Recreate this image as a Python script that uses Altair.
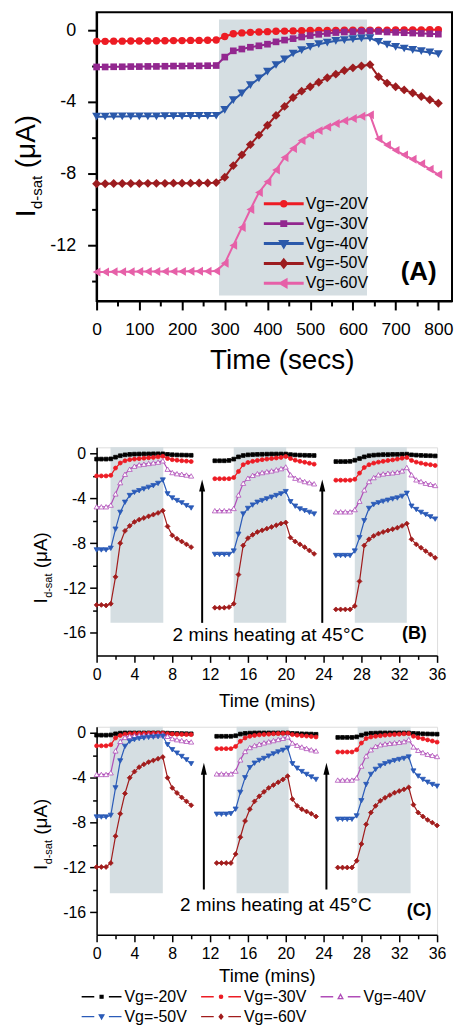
import altair as alt
import pandas as pd

FONT = "Liberation Sans"
SERIES = ["Vg=-20V", "Vg=-30V", "Vg=-40V", "Vg=-50V", "Vg=-60V"]
SHADE_COLOR = "#D5DEE2"

# ---------------- Panel A (seconds) ----------------
A_TIME = [0, 20, 40, 60, 80, 100, 120, 140, 160, 180, 200, 220, 240, 260, 280,
          300, 320, 340, 360, 380, 400, 420, 440, 460, 480, 500, 520, 540, 560,
          580, 600, 620, 640, 660, 680, 700, 720, 740, 760, 780, 800]
A_M20 = [-0.62, -0.62, -0.61, -0.61, -0.6, -0.6, -0.6, -0.59, -0.59, -0.58, -0.58, -0.57, -0.57, -0.56, -0.55,
         -0.35, -0.2, -0.15, -0.12, -0.1, -0.08, -0.06, -0.05, -0.04, -0.03, -0.02, -0.02, -0.01, -0.01, 0.0, 0.0, 0.0, 0.0,
         0.0, 0.0, 0.01, 0.01, 0.02, 0.02, 0.03, 0.03]
A_M30 = [-2.05, -2.05, -2.04, -2.04, -2.03, -2.03, -2.02, -2.02, -2.01, -2.0, -2.0, -1.99, -1.99, -1.98, -1.97,
         -1.5, -1.15, -1.05, -0.95, -0.87, -0.78, -0.65, -0.55, -0.47, -0.38, -0.3, -0.23, -0.18, -0.13, -0.1, -0.08, -0.06, -0.05,
         -0.07, -0.1, -0.12, -0.14, -0.16, -0.18, -0.2, -0.22]
A_M40 = [-4.82, -4.82, -4.81, -4.81, -4.8, -4.8, -4.8, -4.8, -4.79, -4.79, -4.79, -4.78, -4.78, -4.78, -4.77,
         -4.44, -3.9, -3.52, -3.06, -2.69, -2.31, -1.94, -1.63, -1.3, -1.11, -0.93, -0.78, -0.69, -0.59, -0.55, -0.5, -0.46, -0.44,
         -0.65, -0.8, -0.93, -1.02, -1.1, -1.17, -1.24, -1.33]
A_M50 = [-8.56, -8.56, -8.55, -8.55, -8.55, -8.55, -8.54, -8.54, -8.54, -8.53, -8.53, -8.53, -8.52, -8.52, -8.5,
         -8.2, -7.55, -6.95, -6.38, -5.85, -5.3, -4.75, -4.25, -3.75, -3.4, -3.15, -2.9, -2.65, -2.45, -2.25, -2.1, -2.0, -1.92,
         -2.6, -2.95, -3.15, -3.33, -3.5, -3.7, -3.88, -4.07]
A_M60 = [-13.48, -13.48, -13.47, -13.47, -13.47, -13.46, -13.46, -13.46, -13.45, -13.45, -13.45, -13.44, -13.44, -13.44, -13.43,
         -13.0, -12.0, -11.0, -10.0, -9.05, -8.45, -7.8, -7.1, -6.6, -6.15, -5.85, -5.6, -5.4, -5.2, -5.05, -4.92, -4.8, -4.72,
         -6.05, -6.4, -6.7, -6.95, -7.2, -7.45, -7.75, -8.05]
A_COLORS = ["#ED1C24", "#92278F", "#2B59AA", "#9C1C1F", "#E660A8"]
A_SHAPES = ["circle", "square", "triangle-down", "diamond", "triangle-left"]
A_SIZES = [55, 45, 80, 80, 80]
A_SHADE_X = [286.5, 633.0]
A_SHADE_Y = [-14.8, 0.6]
A_XTICKS = [0, 50, 100, 150, 200, 250, 300, 350, 400, 450, 500, 550, 600, 650, 700, 750, 800]
A_YTICKS = [-14, -12, -10, -8, -6, -4, -2, 0]
A_LABEL = {"x": [754], "y": [-13.5], "text": ["(A)"]}
A_LEG_ROW = [0, 1, 2, 3, 4]

# ---------------- Panels B and C (minutes) ----------------
REL_TIME = [0.0, 0.5, 1.0, 1.5, 2.0, 2.5, 3.0, 3.5, 4.0, 4.5, 5.0,
            5.5, 6.0, 6.5, 7.0, 7.5, 8.0, 8.5, 9.0, 9.5, 10.0, 10.5]
B_SEG_START = [0.0, 12.5, 25.3]
C_SEG_START = [0.0, 12.7, 25.5]

B_M20 = [[-0.5, -0.5, -0.5, -0.48, -0.33, -0.2, -0.12, -0.08, -0.06, -0.05, -0.04, -0.04, -0.03, -0.03, -0.03, -0.08, -0.11, -0.13, -0.14, -0.15, -0.16],
         [-0.65, -0.65, -0.65, -0.62, -0.5, -0.3, -0.18, -0.12, -0.1, -0.08, -0.07, -0.06, -0.05, -0.05, -0.05, -0.05, -0.1, -0.13, -0.15, -0.16, -0.17, -0.18],
         [-0.72, -0.72, -0.72, -0.7, -0.6, -0.45, -0.3, -0.2, -0.15, -0.12, -0.1, -0.1, -0.08, -0.08, -0.07, -0.06, -0.12, -0.15, -0.17, -0.19, -0.2, -0.22]]
B_M30 = [[-2.0, -2.0, -2.0, -1.95, -1.3, -0.85, -0.65, -0.55, -0.5, -0.46, -0.42, -0.38, -0.35, -0.3, -0.25, -0.45, -0.55, -0.6, -0.65, -0.68, -0.72],
         [-2.25, -2.25, -2.25, -2.25, -2.15, -1.6, -1.0, -0.8, -0.7, -0.62, -0.55, -0.5, -0.45, -0.4, -0.35, -0.27, -0.45, -0.6, -0.7, -0.78, -0.87, -0.95],
         [-2.38, -2.38, -2.38, -2.38, -2.3, -1.75, -1.25, -1.0, -0.86, -0.77, -0.7, -0.63, -0.57, -0.5, -0.42, -0.36, -0.62, -0.77, -0.86, -0.95, -1.0, -1.07]]
B_M40 = [[-4.75, -4.75, -4.75, -4.6, -3.6, -2.6, -1.85, -1.4, -1.13, -1.0, -0.95, -0.89, -0.83, -0.77, -0.65, -1.4, -1.7, -1.8, -1.85, -1.92, -2.0],
         [-5.1, -5.1, -5.1, -5.1, -4.9, -3.7, -2.65, -2.2, -1.95, -1.8, -1.7, -1.62, -1.55, -1.45, -1.35, -1.2, -1.9, -2.2, -2.35, -2.5, -2.6, -2.7],
         [-5.2, -5.2, -5.2, -5.2, -5.0, -4.25, -3.25, -2.5, -2.15, -1.9, -1.82, -1.76, -1.72, -1.66, -1.55, -1.25, -1.9, -2.35, -2.5, -2.65, -2.75, -2.85]]
B_M50 = [[-8.6, -8.6, -8.6, -8.45, -6.75, -5.25, -4.35, -3.75, -3.47, -3.32, -3.17, -3.02, -2.87, -2.67, -2.37, -3.6, -3.97, -4.2, -4.4, -4.65, -4.86],
         [-9.0, -9.0, -9.0, -9.0, -8.7, -7.2, -5.4, -4.9, -4.6, -4.35, -4.2, -4.05, -3.9, -3.75, -3.6, -3.4, -4.3, -4.7, -4.95, -5.1, -5.25, -5.4],
         [-9.1, -9.1, -9.1, -9.1, -8.7, -7.5, -6.0, -4.9, -4.55, -4.4, -4.27, -4.17, -4.06, -3.97, -3.82, -3.55, -4.7, -5.0, -5.25, -5.45, -5.65, -5.85]]
B_M60 = [[-13.5, -13.5, -13.55, -13.4, -11.0, -8.0, -6.9, -6.45, -6.1, -5.9, -5.75, -5.6, -5.45, -5.3, -5.1, -6.5, -7.3, -7.6, -7.85, -8.1, -8.35],
         [-13.75, -13.75, -13.75, -13.7, -13.4, -10.8, -8.2, -7.55, -7.25, -7.0, -6.85, -6.7, -6.55, -6.4, -6.25, -6.15, -7.5, -7.85, -8.1, -8.35, -8.65, -8.95],
         [-13.9, -13.9, -13.9, -13.9, -13.6, -11.4, -8.2, -7.65, -7.35, -7.15, -7.0, -6.87, -6.75, -6.62, -6.45, -6.25, -7.65, -8.1, -8.4, -8.7, -9.0, -9.3]]

C_M20 = [[-0.2, -0.2, -0.2, -0.18, -0.08, -0.02, 0.0, 0.0, 0.0, 0.0, 0.0, 0.0, 0.0, 0.0, 0.0, -0.02, -0.04, -0.05, -0.06, -0.07, -0.08],
         [-0.3, -0.3, -0.3, -0.3, -0.25, -0.1, -0.04, -0.02, 0.0, 0.0, 0.0, 0.0, 0.0, 0.0, 0.0, 0.0, -0.04, -0.06, -0.08, -0.09, -0.1, -0.12],
         [-0.4, -0.4, -0.4, -0.4, -0.35, -0.2, -0.08, -0.03, -0.02, 0.0, 0.0, 0.0, 0.0, 0.0, 0.0, 0.0, -0.04, -0.06, -0.08, -0.09, -0.1, -0.11]]
C_M30 = [[-1.15, -1.15, -1.15, -1.05, -0.45, -0.22, -0.12, -0.08, -0.06, -0.05, -0.04, -0.03, -0.02, -0.02, -0.02, -0.08, -0.1, -0.12, -0.13, -0.14, -0.15],
         [-1.4, -1.4, -1.4, -1.4, -1.2, -0.75, -0.45, -0.3, -0.22, -0.17, -0.14, -0.11, -0.08, -0.06, -0.04, -0.02, -0.15, -0.2, -0.25, -0.28, -0.32, -0.36],
         [-1.7, -1.7, -1.7, -1.7, -1.5, -0.9, -0.5, -0.36, -0.3, -0.25, -0.2, -0.17, -0.14, -0.11, -0.08, -0.06, -0.3, -0.42, -0.52, -0.62, -0.72, -0.82]]
C_M40 = [[-3.7, -3.7, -3.7, -3.55, -1.6, -0.75, -0.4, -0.3, -0.25, -0.22, -0.2, -0.18, -0.17, -0.16, -0.15, -0.3, -0.5, -0.6, -0.68, -0.74, -0.8],
         [-3.65, -3.65, -3.65, -3.65, -3.4, -2.4, -1.65, -1.3, -1.12, -1.0, -0.88, -0.78, -0.68, -0.58, -0.48, -0.35, -0.9, -1.1, -1.25, -1.38, -1.5, -1.6],
         [-4.2, -4.2, -4.2, -4.2, -4.0, -2.95, -2.05, -1.5, -1.2, -1.05, -0.98, -0.93, -0.88, -0.83, -0.77, -0.6, -1.25, -1.55, -1.75, -1.9, -2.0, -2.1]]
C_M50 = [[-7.5, -7.5, -7.5, -7.35, -4.9, -2.5, -1.2, -0.75, -0.6, -0.5, -0.45, -0.4, -0.37, -0.34, -0.3, -1.05, -1.5, -1.8, -2.1, -2.4, -2.75],
         [-7.25, -7.25, -7.25, -7.2, -6.8, -5.3, -4.0, -3.1, -2.7, -2.45, -2.28, -2.07, -1.87, -1.7, -1.55, -1.35, -2.75, -3.15, -3.45, -3.7, -3.93, -4.15],
         [-7.7, -7.7, -7.7, -7.7, -7.4, -6.05, -4.6, -3.7, -3.25, -2.95, -2.75, -2.6, -2.47, -2.37, -2.28, -2.15, -3.4, -3.85, -4.15, -4.4, -4.6, -4.75]]
C_M60 = [[-11.95, -11.95, -11.95, -11.6, -9.2, -7.2, -5.4, -4.0, -3.45, -3.05, -2.8, -2.6, -2.45, -2.3, -2.15, -4.0, -4.9, -5.35, -5.75, -6.1, -6.45],
         [-11.6, -11.6, -11.6, -11.6, -10.8, -9.3, -7.85, -6.8, -6.1, -5.65, -5.25, -4.9, -4.65, -4.4, -4.15, -3.85, -5.9, -6.5, -6.8, -7.0, -7.2, -7.45],
         [-12.0, -12.0, -12.0, -12.0, -11.4, -9.9, -8.15, -7.1, -6.5, -6.05, -5.78, -5.55, -5.33, -5.18, -5.03, -4.85, -6.4, -7.1, -7.45, -7.75, -8.0, -8.25]]

BC_COLORS = ["#000000", "#ED1C24", "#B04DB8", "#2B5BB8", "#A11C1C"]
BC_FILLS = ["#000000", "#ED1C24", "#FFFFFF", "#2B5BB8", "#A11C1C"]
BC_SHAPES = ["square", "circle", "triangle-up", "triangle-down", "diamond"]
BC_SIZES = [14, 16, 26, 26, 24]
BC_XTICKS = [0, 2, 4, 6, 8, 10, 12, 14, 16, 18, 20, 22, 24, 26, 28, 30, 32, 34, 36]
BC_YTICKS = [-16, -14, -12, -10, -8, -6, -4, -2, 0]
BC_LEG_COL = [0, 1, 2, 0, 1]
BC_LEG_ROW = [0, 0, 0, 1, 1]

B_SHADE_X0 = [1.47, 14.5, 27.3]
B_SHADE_X1 = [7.05, 20.05, 32.8]
B_SHADE_Y = [-15.1, 0.55]
C_SHADE_X0 = [1.4, 14.8, 27.6]
C_SHADE_X1 = [7.0, 20.3, 33.2]
C_SHADE_Y = [-14.3, 0.55]

B_ARROW_X = [11.16, 23.86]
B_ARROW_Y = [-15.1, -2.85]
C_ARROW_X = [11.34, 24.3]
C_ARROW_Y = [-13.96, -3.2]

NOTE_TEXT = "2 mins heating at 45°C"
B_NOTE = {"x": [18.16], "y": [-16.2]}
C_NOTE = {"x": [18.95], "y": [-15.33]}
B_TAG = {"x": [33.6], "y": [-16.1], "text": ["(B)"]}
C_TAG = {"x": [34.1], "y": [-15.9], "text": ["(C)"]}


# ---------------- helpers ----------------
def axis(values, test, major, minor, fs, title, title_fs, lpad, tpad, dw, title_x=None):
    kw = dict(values=values,
              labelExpr=f"({test}) ? (datum.value + '') : ''",
              tickSize={"condition": {"test": test, "value": major}, "value": minor},
              titleFont=FONT, titleFontSize=title_fs, titleFontWeight="normal", titleColor="black",
              labelFont=FONT, labelFontSize=fs, labelColor="black", labelPadding=lpad,
              domainColor="black", domainWidth=dw, tickColor="black", tickWidth=dw,
              grid=False, labelOverlap=False, labelFlush=False)
    if title:
        kw["title"] = title
        kw["titlePadding"] = tpad
        if title_x is not None:
            kw["titleX"] = title_x
    else:
        kw["title"] = None
    return alt.Axis(**kw)


def ytitle(x_main, x_sub, y0, fmain, fsub):
    w_i = 0.278 * fmain
    w_sub = 2.223 * fsub
    parts = [("I", x_main, y0, fmain),
             ("d-sat", x_sub, y0 - w_i - 0.5, fsub),
             ("(μA)", x_main, y0 - w_i - 0.5 - w_sub - 0.278 * fmain, fmain)]
    out = []
    for txt, xx, yy, fs in parts:
        out.append(alt.Chart(pd.DataFrame({"t": [txt]})).mark_text(
            angle=270, align="left", baseline="alphabetic", font=FONT, fontSize=fs, color="black"
        ).encode(x=alt.value(xx), y=alt.value(yy), text="t:N"))
    return out


def circle(r):
    return f"M{-r},0A{r},{r},0,1,0,{r},0A{r},{r},0,1,0,{-r},0Z"


def sq(a):
    return f"M{-a},{-a}L{a},{-a}L{a},{a}L{-a},{a}Z"


def tri_down(a, b, c):
    return f"M{-a},{-b}L{a},{-b}L0,{c}Z"


def tri_up(a, b, c):
    return f"M{-a},{b}L{a},{b}L0,{-c}Z"


def diamond(a, b):
    return f"M0,{-a}L{b},0L0,{a}L{-b},0Z"


def tri_left(a, b, c):
    return f"M{-c},0L{b},{-a}L{b},{a}Z"


def legend_group(leg_df, xenc, yenc, colors, fills, paths, sym_size, sym_sw, fs, dx):
    sym = alt.Chart(leg_df).mark_point(filled=True, opacity=1, size=sym_size, strokeWidth=sym_sw).encode(
        x=xenc, y=yenc,
        shape=alt.Shape("series:N", scale=alt.Scale(domain=SERIES, range=paths), legend=None),
        stroke=alt.Stroke("series:N", scale=alt.Scale(domain=SERIES, range=colors), legend=None),
        fill=alt.Fill("series:N", scale=alt.Scale(domain=SERIES, range=fills), legend=None),
    )
    lab = alt.Chart(leg_df).mark_text(align="left", baseline="middle", dx=dx, font=FONT,
                                      fontSize=fs, color="black").encode(x=xenc, y=yenc, text="series:N")
    return alt.layer(sym, lab)


# ---------------- Panel A ----------------
rowsA = []
for name, vals in zip(SERIES, [A_M20, A_M30, A_M40, A_M50, A_M60]):
    for t, v in zip(A_TIME, vals):
        rowsA.append({"time": t, "value": v, "series": name})
dfA = pd.DataFrame(rowsA)

axAx = axis(A_XTICKS, "datum.value % 100 === 0", 9, 5, 17.5, "Time (secs)", 28, 11, 8, 2, title_x=186)
axAy = axis(A_YTICKS, "datum.value % 4 === 0", 9, 5, 18, None, 12, 12, 4, 2)
scAx = alt.Scale(domain=[0, 832], nice=False, zero=False)
scAy = alt.Scale(domain=[-15.1, 1.0], nice=False, zero=False)


def xA(f):
    return alt.X(f, scale=scAx, axis=axAx)


def yA(f):
    return alt.Y(f, scale=scAy, axis=axAy)


shadeA = alt.Chart(pd.DataFrame({"x0": [A_SHADE_X[0]], "x1": [A_SHADE_X[1]],
                                 "y0": [A_SHADE_Y[0]], "y1": [A_SHADE_Y[1]]})).mark_rect(
    color=SHADE_COLOR).encode(x=xA("x0:Q"), x2="x1:Q", y=yA("y0:Q"), y2="y1:Q")

lineA = alt.Chart(dfA).mark_line(strokeWidth=2).encode(
    x=xA("time:Q"), y=yA("value:Q"),
    color=alt.Color("series:N", scale=alt.Scale(domain=SERIES, range=A_COLORS), legend=None))

pointsA = []
for name, sh, col, sz in zip(SERIES, A_SHAPES, A_COLORS, A_SIZES):
    pointsA.append(alt.Chart(dfA).transform_filter(alt.datum.series == name).mark_point(
        shape=sh, filled=True, color=col, size=sz, opacity=1, strokeWidth=0.5
    ).encode(x=xA("time:Q"), y=yA("value:Q")))

tagA = alt.Chart(pd.DataFrame(A_LABEL)).mark_text(
    font=FONT, fontSize=26, fontWeight="bold", color="black", align="center", baseline="middle"
).encode(x=xA("x:Q"), y=yA("y:Q"), text="text:N")

mainA = alt.layer(shadeA, lineA, *pointsA, tagA, *ytitle(-62, -55, 206, 28, 15))

A_LEG_PATHS = [
    "M-3,0L3,0" + circle(0.33),
    "M-3,0L3,0" + sq(0.3),
    "M-3,0L3,0" + tri_down(0.45, 0.3, 0.45),
    "M-3,0L3,0" + diamond(0.5, 0.4),
    "M-3,0L3,0" + tri_left(0.45, 0.35, 0.45),
]
legA = legend_group(
    pd.DataFrame({"series": SERIES, "row": A_LEG_ROW}),
    alt.value(188),
    alt.Y("row:Q", scale=alt.Scale(domain=[0, 4], range=[192.3, 272.3]), axis=None),
    A_COLORS, A_COLORS, A_LEG_PATHS, 178, 3, 16, 22)

chartA = alt.layer(mainA, legA).resolve_scale(y="independent").properties(
    width=357, height=290, view=alt.ViewBackground(stroke="black", strokeWidth=2))


# ---------------- Panels B / C ----------------
BC_LEG_PATHS = [
    "M-3,0L-1.1,0M1.1,0L3,0" + sq(0.22),
    "M-3,0L-1.1,0M1.1,0L3,0" + circle(0.25),
    "M-3,0L-1.1,0M1.1,0L3,0" + tri_up(0.35, 0.28, 0.35),
    "M-3,0L-1.1,0M1.1,0L3,0" + tri_down(0.35, 0.28, 0.35),
    "M-3,0L-1.1,0M1.1,0L3,0" + diamond(0.35, 0.28),
]


def make_bc(arrays, starts, shade_x0, shade_x1, shade_y, arrow_x, arrow_y, note, tag, ytitle_y,
            with_legend, title_pad):
    rows = []
    for name, segs in zip(SERIES, arrays):
        for k, vals in enumerate(segs):
            for i, v in enumerate(vals):
                rows.append({"time": round(starts[k] + REL_TIME[i], 3), "value": v, "series": name, "seg": k})
    df = pd.DataFrame(rows)

    axx = axis(BC_XTICKS, "datum.value % 4 === 0", 7, 4, 16, "Time (mins)", 18.5, 4, title_pad, 1.5)
    axy = axis(BC_YTICKS, "datum.value % 4 === 0", 7, 4, 16, None, 12, 4, 4, 1.5)
    scx = alt.Scale(domain=[0, 36], nice=False, zero=False)
    scy = alt.Scale(domain=[-18, 0.55], nice=False, zero=False)

    def X(f):
        return alt.X(f, scale=scx, axis=axx)

    def Y(f):
        return alt.Y(f, scale=scy, axis=axy)

    shade = alt.Chart(pd.DataFrame({"x0": shade_x0, "x1": shade_x1,
                                    "y0": [shade_y[0]] * len(shade_x0),
                                    "y1": [shade_y[1]] * len(shade_x0)})).mark_rect(
        color=SHADE_COLOR).encode(x=X("x0:Q"), x2="x1:Q", y=Y("y0:Q"), y2="y1:Q")

    line = alt.Chart(df).mark_line(strokeWidth=1.2).encode(
        x=X("time:Q"), y=Y("value:Q"),
        color=alt.Color("series:N", scale=alt.Scale(domain=SERIES, range=BC_COLORS), legend=None),
        detail="seg:N")

    pts = []
    for name, sh, col, fil, sz in zip(SERIES, BC_SHAPES, BC_COLORS, BC_FILLS, BC_SIZES):
        pts.append(alt.Chart(df).transform_filter(alt.datum.series == name).mark_point(
            shape=sh, filled=True, fill=fil, stroke=col, size=sz, opacity=1, strokeWidth=0.8
        ).encode(x=X("time:Q"), y=Y("value:Q")))

    arr_df = pd.DataFrame({"x": arrow_x, "y0": [arrow_y[0]] * len(arrow_x), "y1": [arrow_y[1]] * len(arrow_x)})
    shaft = alt.Chart(arr_df).mark_rule(color="black", strokeWidth=2).encode(
        x=X("x:Q"), y=Y("y0:Q"), y2="y1:Q")
    head = alt.Chart(arr_df).mark_point(shape="M0,-1L0.5,1L-0.5,1Z", filled=True, color="black",
                                        size=144, opacity=1, strokeWidth=0).encode(
        x=X("x:Q"), y=Y("y1:Q"))

    note_t = alt.Chart(pd.DataFrame({"x": note["x"], "y": note["y"], "text": [NOTE_TEXT]})).mark_text(
        font=FONT, fontSize=19, color="black", align="center", baseline="middle"
    ).encode(x=X("x:Q"), y=Y("y:Q"), text="text:N")
    tag_t = alt.Chart(pd.DataFrame(tag)).mark_text(
        font=FONT, fontSize=18, fontWeight="bold", color="black", align="center", baseline="middle"
    ).encode(x=X("x:Q"), y=Y("y:Q"), text="text:N")

    main = alt.layer(shade, line, *pts, shaft, head, note_t, tag_t, *ytitle(-50, -45, ytitle_y, 19, 11))
    if with_legend:
        leg = legend_group(
            pd.DataFrame({"series": SERIES, "col": BC_LEG_COL, "row": BC_LEG_ROW}),
            alt.X("col:Q", scale=alt.Scale(domain=[0, 2], range=[5, 245]), axis=None),
            alt.Y("row:Q", scale=alt.Scale(domain=[0, 1], range=[271.2, 291.2]), axis=None),
            BC_COLORS, BC_FILLS, BC_LEG_PATHS, 178, 1.3, 16, 23)
        return alt.layer(main, leg).resolve_scale(x="independent", y="independent").properties(
            width=342, height=209)
    return main.properties(width=342, height=209)


chartB = make_bc([B_M20, B_M30, B_M40, B_M50, B_M60], B_SEG_START, B_SHADE_X0, B_SHADE_X1, B_SHADE_Y,
                 B_ARROW_X, B_ARROW_Y, B_NOTE, B_TAG, 157, False, 9)
chartC = make_bc([C_M20, C_M30, C_M40, C_M50, C_M60], C_SEG_START, C_SHADE_X0, C_SHADE_X1, C_SHADE_Y,
                 C_ARROW_X, C_ARROW_Y, C_NOTE, C_TAG, 144, True, 5)

RES = dict(color="independent", stroke="independent", fill="independent", shape="independent")
inner = alt.vconcat(chartB, chartC, spacing=13.7).resolve_scale(**RES)
chart = alt.vconcat(chartA, inner, spacing=69).resolve_scale(**RES).properties(
    padding={"left": 3, "top": 1, "right": 0, "bottom": 0}
).configure_view(stroke="transparent").configure(font=FONT)

chart.save("out.html", embed_options={"renderer": "svg", "actions": False})
